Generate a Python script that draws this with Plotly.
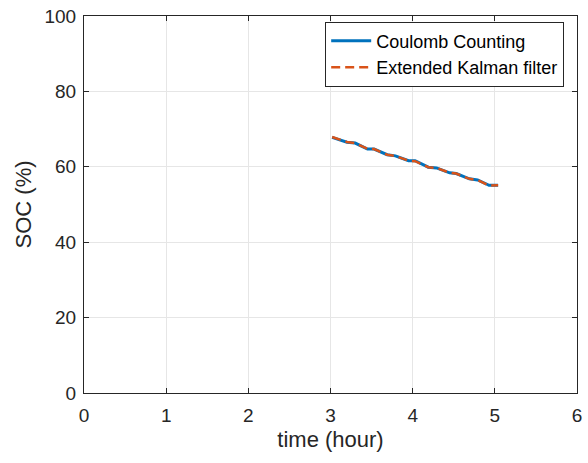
import plotly.graph_objects as go

time_h = [3.02, 3.20, 3.30, 3.45, 3.53, 3.69, 3.79, 3.95, 4.03, 4.19, 4.29, 4.45, 4.53, 4.69, 4.79, 4.93, 5.04]
soc_cc = [67.8, 66.5, 66.3, 64.7, 64.7, 63.2, 62.9, 61.6, 61.6, 59.9, 59.7, 58.4, 58.2, 56.8, 56.5, 55.1, 55.1]
soc_ekf = [67.9, 66.6, 66.3, 64.8, 64.7, 63.2, 62.9, 61.6, 61.5, 59.9, 59.7, 58.4, 58.2, 56.8, 56.5, 55.0, 55.1]

x_ticks = [0, 1, 2, 3, 4, 5, 6]
y_ticks = [0, 20, 40, 60, 80, 100]

FONT = "Liberation Sans, Arial, Helvetica"

fig = go.Figure()
fig.add_trace(go.Scatter(x=time_h, y=soc_cc, mode="lines", name="Coulomb Counting",
                         line=dict(color="#0072BD", width=3)))
fig.add_trace(go.Scatter(x=time_h, y=soc_ekf, mode="lines", name="Extended Kalman filter",
                         line=dict(color="#D95319", width=2.5, dash="9px,5px")))

axis_common = dict(showline=True, linecolor="#262626", linewidth=1, mirror="ticks",
                   ticks="inside", ticklen=5, tickcolor="#262626",
                   showgrid=True, gridcolor="#e6e6e6", gridwidth=1, zeroline=False,
                   tickfont=dict(family=FONT, size=19, color="#262626"))

fig.update_layout(
    width=588, height=463,
    margin=dict(l=84, r=6, t=14, b=70),
    plot_bgcolor="white", paper_bgcolor="white",
    showlegend=True,
    legend=dict(x=0.974, y=0.985, xanchor="right", yanchor="top",
                bgcolor="white", bordercolor="#262626", borderwidth=1,
                font=dict(family=FONT, size=18, color="#000000"),
                tracegroupgap=0, itemwidth=40),
    xaxis=dict(range=[0, 6], tickvals=x_ticks, ticklabelstandoff=5,
               title=dict(text="time (hour)", font=dict(family=FONT, size=22, color="#262626"), standoff=6),
               **axis_common),
    yaxis=dict(range=[0, 100], tickvals=y_ticks, ticklabelstandoff=3,
               title=dict(text="SOC (%)", font=dict(family=FONT, size=22, color="#262626"), standoff=6),
               **axis_common),
)

fig.write_html("out.html")
